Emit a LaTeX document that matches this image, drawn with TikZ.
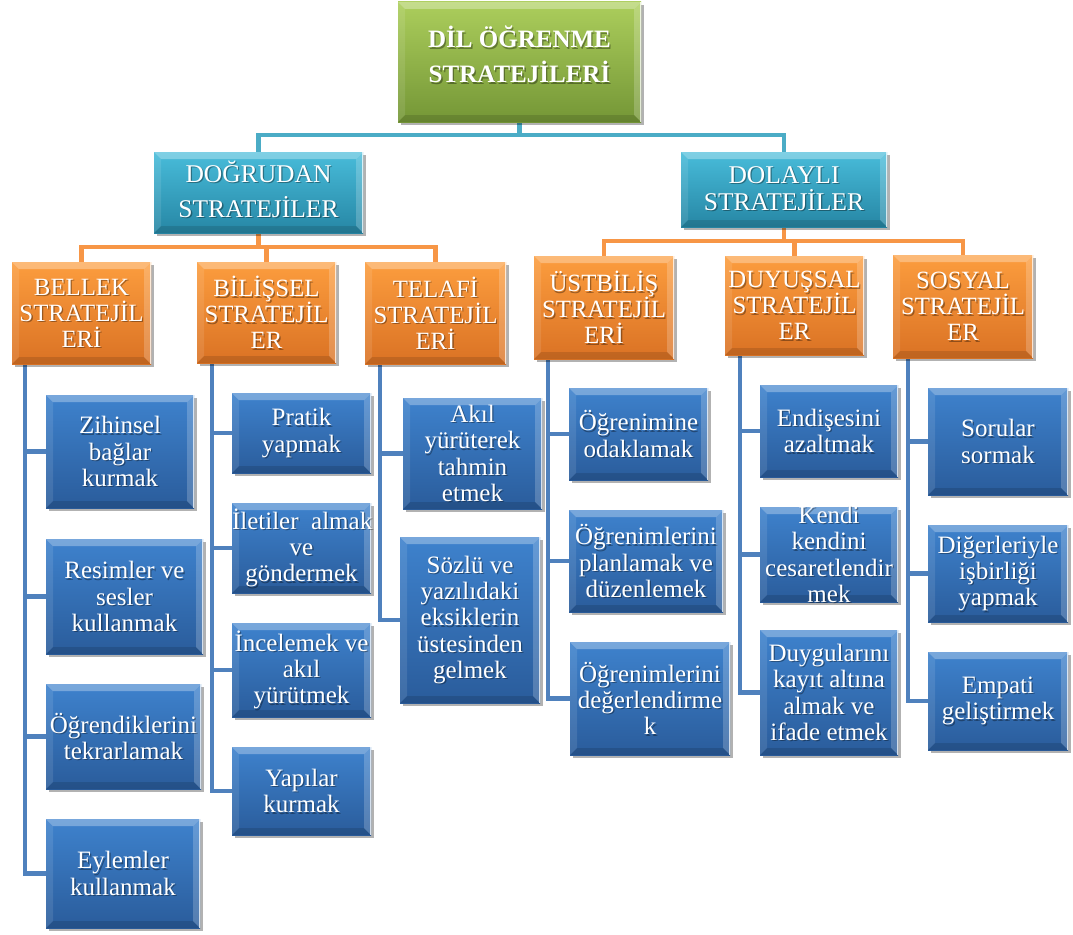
\documentclass[tikz,border=0pt]{standalone}
\usepackage{fontspec}
\setmainfont{Liberation Serif}
\usetikzlibrary{shadows,backgrounds}

\pgfdeclarelayer{paper}
\pgfsetlayers{paper,background,main}

\definecolor{blueTop}{RGB}{62,130,205}
\definecolor{blueBot}{RGB}{42,92,155}
\definecolor{orTop}{RGB}{252,157,62}
\definecolor{orBot}{RGB}{218,114,36}
\definecolor{tealTop}{RGB}{72,188,218}
\definecolor{tealBot}{RGB}{38,134,164}
\definecolor{grTop}{RGB}{172,206,92}
\definecolor{grBot}{RGB}{116,150,54}
\definecolor{tealLine}{RGB}{75,172,198}
\definecolor{orLine}{RGB}{247,150,70}
\definecolor{blueLine}{RGB}{79,129,189}

\tikzset{
  bevelled/.style={
    inner sep=0pt,
    drop shadow={shadow xshift=3pt, shadow yshift=-3pt, opacity=.3, fill=black},
    path picture={
      % top bevel
      \fill[white,opacity=.30]
        (path picture bounding box.north west) -- (path picture bounding box.north east)
        -- ([shift={(-7pt,-7pt)}]path picture bounding box.north east)
        -- ([shift={(7pt,-7pt)}]path picture bounding box.north west) -- cycle;
      % left bevel
      \fill[white,opacity=.10]
        (path picture bounding box.north west) -- ([shift={(7pt,-7pt)}]path picture bounding box.north west)
        -- ([shift={(7pt,7pt)}]path picture bounding box.south west)
        -- (path picture bounding box.south west) -- cycle;
      % right bevel
      \fill[white,opacity=.20]
        (path picture bounding box.north east) -- (path picture bounding box.south east)
        -- ([shift={(-7pt,7pt)}]path picture bounding box.south east)
        -- ([shift={(-7pt,-7pt)}]path picture bounding box.north east) -- cycle;
      % bottom bevel
      \fill[black,opacity=.12]
        (path picture bounding box.south west) -- (path picture bounding box.south east)
        -- ([shift={(-7pt,7pt)}]path picture bounding box.south east)
        -- ([shift={(7pt,7pt)}]path picture bounding box.south west) -- cycle;
      % highlight on the right edge
      \draw[white,opacity=.75,line width=2.4pt]
        (path picture bounding box.north east) -- (path picture bounding box.south east);
    }
  },
  rootbox/.style={bevelled, top color=grTop, bottom color=grBot},
  tealbox/.style={bevelled, top color=tealTop, bottom color=tealBot},
  orbox/.style={bevelled, top color=orTop, bottom color=orBot},
  bluebox/.style={bevelled, top color=blueTop, bottom color=blueBot},
  label text/.style={inner sep=0pt, align=flush center},
  roottext/.style={label text, font=\bfseries\fontsize{25}{35}\selectfont,
    text height=7pt, text depth=35pt},
  tealtext/.style={label text, font=\fontsize{25.5}{35}\selectfont,
    text height=14pt, text depth=35pt},
  tealtexttight/.style={label text, font=\fontsize{25.5}{27}\selectfont,
    text height=14pt, text depth=27pt},
  ortext/.style={label text, font=\fontsize{24.8}{26}\selectfont},
  bluetext/.style={label text, font=\fontsize{25}{26.3}\selectfont},
  tealconn/.style={draw=tealLine, line width=4.5pt},
  orconn/.style={draw=orLine, line width=4.5pt},
  blueconn/.style={draw=blueLine, line width=4.5pt},
}

% box from its corners: box style, text style, name, x1, y1, x2, y2, text
% the label is set twice: a soft dark copy under the white one
\newcommand\bevbox[8]{%
  \pgfmathsetmacro\bxw{#6-#4}%
  \pgfmathsetmacro\bxh{#7-#5}%
  \pgfmathsetmacro\bxcx{(#4+#6)/2}%
  \pgfmathsetmacro\bxcy{(#5+#7)/2}%
  \node[#1, minimum width=\bxw pt, minimum height=\bxh pt] (#3) at (\bxcx,\bxcy) {};
  \node[#2, text width=\bxw pt, text=black, opacity=.35]
    (#3-shade) at ([shift={(1.3pt,-1.3pt)}]#3.center) {#8};
  \node[#2, text width=\bxw pt, text=white] (#3-text) at (#3.center) {#8};}

\begin{document}
\begin{tikzpicture}[x=1pt,y=-1pt]
\useasboundingbox (0,0) rectangle (1073,934);
\begin{pgfonlayer}{paper}
  \fill[white] (0,0) rectangle (1073,934);
\end{pgfonlayer}

% root
\bevbox{rootbox}{roottext}{root}{398}{2}{641}{122}{DİL ÖĞRENME\\STRATEJİLERİ}

% main groups
\bevbox{tealbox}{tealtext}{dogrudan}{154}{152}{363}{233}{DOĞRUDAN\\STRATEJİLER}
\bevbox{tealbox}{tealtexttight}{dolayli}{681}{152}{887}{227}{DOLAYLI\\STRATEJİLER}

% strategy families
\bevbox{orbox}{ortext}{bellek}{12}{262}{151}{364}{BELLEK\\STRATEJİL\\ERİ}
\bevbox{orbox}{ortext}{bilissel}{197}{262}{336}{363}{BİLİŞSEL\\STRATEJİL\\ER}
\bevbox{orbox}{ortext}{telafi}{365}{262}{506}{364}{TELAFİ\\STRATEJİL\\ERİ}
\bevbox{orbox}{ortext}{ustbilis}{534}{256}{674}{359}{ÜSTBİLİŞ\\STRATEJİL\\ERİ}
\bevbox{orbox}{ortext}{duyussal}{725}{256}{864}{355}{DUYUŞSAL\\STRATEJİL\\ER}
\bevbox{orbox}{ortext}{sosyal}{893}{255}{1033}{358}{SOSYAL\\STRATEJİL\\ER}

% memory strategies
\bevbox{bluebox}{bluetext}{zihinsel}{46}{395}{194}{508}{Zihinsel\\bağlar\\kurmak}
\bevbox{bluebox}{bluetext}{resimler}{46}{539}{203}{654}{Resimler ve\\sesler\\kullanmak}
\bevbox{bluebox}{bluetext}{ogrendik}{46}{684}{201}{789}{Öğrendiklerini\\tekrarlamak}
\bevbox{bluebox}{bluetext}{eylemler}{46}{819}{200}{928}{Eylemler\\kullanmak}

% cognitive strategies
\bevbox{bluebox}{bluetext}{pratik}{232}{393}{371}{473}{Pratik\\yapmak}
\bevbox{bluebox}{bluetext}{iletiler}{232}{503}{371}{593}{\mbox{İletiler\ \ almak}\\ve\\göndermek}
\bevbox{bluebox}{bluetext}{incelemek}{232}{623}{371}{717}{\mbox{İncelemek ve}\\akıl\\yürütmek}
\bevbox{bluebox}{bluetext}{yapilar}{232}{747}{371}{835}{Yapılar\\kurmak}

% compensation strategies
\bevbox{bluebox}{bluetext}{akil}{403}{398}{542}{509}{Akıl\\yürüterek\\tahmin\\etmek}
\bevbox{bluebox}{bluetext}{sozlu}{400}{537}{540}{703}{Sözlü ve\\yazılıdaki\\eksiklerin\\üstesinden\\gelmek}

% metacognitive strategies
\bevbox{bluebox}{bluetext}{odaklamak}{569}{388}{708}{480}{Öğrenimine\\odaklamak}
\bevbox{bluebox}{bluetext}{planlamak}{569}{510}{723}{612}{Öğrenimlerini\\planlamak ve\\düzenlemek}
\bevbox{bluebox}{bluetext}{degerlendirme}{570}{642}{730}{755}{Öğrenimlerini\\değerlendirme\\k}

% affective strategies
\bevbox{bluebox}{bluetext}{endise}{760}{385}{898}{477}{Endişesini\\azaltmak}
\bevbox{bluebox}{bluetext}{cesaret}{760}{507}{898}{602}{Kendi\\kendini\\cesaretlendir\\mek}
\bevbox{bluebox}{bluetext}{duygular}{760}{630}{898}{755}{Duygularını\\kayıt altına\\almak ve\\ifade etmek}

% social strategies
\bevbox{bluebox}{bluetext}{sorular}{928}{388}{1068}{495}{Sorular\\sormak}
\bevbox{bluebox}{bluetext}{isbirligi}{928}{525}{1068}{622}{Diğerleriyle\\işbirliği\\yapmak}
\bevbox{bluebox}{bluetext}{empati}{928}{652}{1068}{750}{Empati\\geliştirmek}

\begin{pgfonlayer}{background}
  % root to the two main groups
  \draw[tealconn] (root.south) -- ++(0,13) -| (dogrudan.north);
  \draw[tealconn] (root.south) -- ++(0,13) -| (dolayli.north);
  % direct strategies
  \draw[orconn] (dogrudan.south) -- ++(0,14) -| (bellek.north);
  \draw[orconn] (dogrudan.south) -- ++(0,14) -| (bilissel.north);
  \draw[orconn] (dogrudan.south) -- ++(0,14) -| (telafi.north);
  % indirect strategies
  \draw[orconn] (dolayli.south) -- ++(0,14) -| (ustbilis.north);
  \draw[orconn] (dolayli.south) -- ++(0,14) -| (duyussal.north);
  \draw[orconn] (dolayli.south) -- ++(0,14) -| (sosyal.north);
  % leaves
  \foreach \leaf in {zihinsel,resimler,ogrendik,eylemler}
    \draw[blueconn] (bellek.south west) ++(13,0) |- (\leaf.west);
  \foreach \leaf in {pratik,iletiler,incelemek,yapilar}
    \draw[blueconn] (bilissel.south west) ++(15,0) |- (\leaf.west);
  \foreach \leaf in {akil,sozlu}
    \draw[blueconn] (telafi.south west) ++(15,0) |- (\leaf.west);
  \foreach \leaf in {odaklamak,planlamak,degerlendirme}
    \draw[blueconn] (ustbilis.south west) ++(14,0) |- (\leaf.west);
  \foreach \leaf in {endise,cesaret,duygular}
    \draw[blueconn] (duyussal.south west) ++(15,0) |- (\leaf.west);
  \foreach \leaf in {sorular,isbirligi,empati}
    \draw[blueconn] (sosyal.south west) ++(15,0) |- (\leaf.west);
\end{pgfonlayer}
\end{tikzpicture}
\end{document}
